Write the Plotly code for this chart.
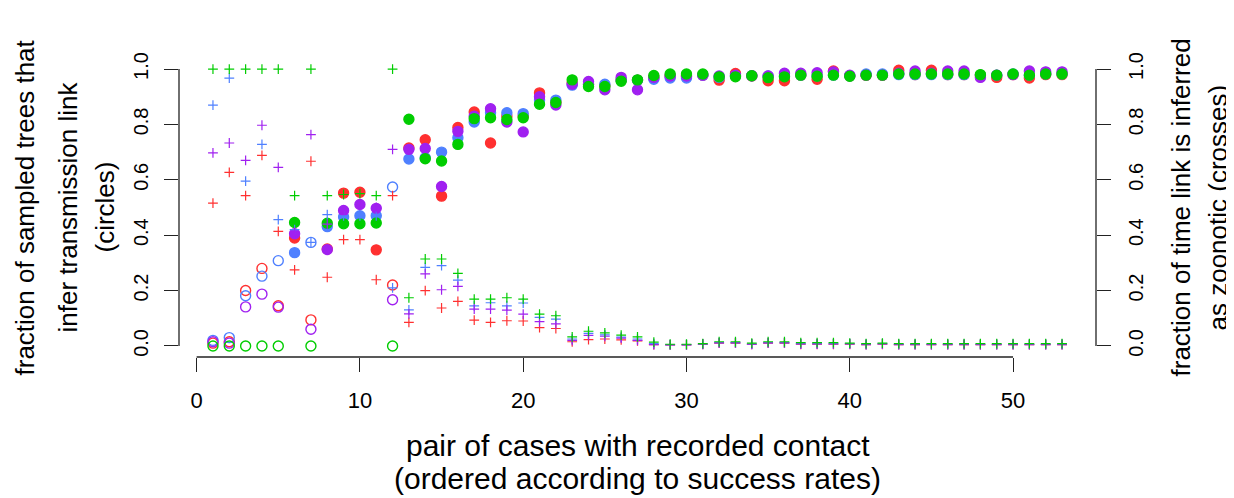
import numpy as np
import plotly.graph_objects as go

# ---------------- data ----------------
pairs = list(range(1, 54))

# pairs drawn with open circles (all others filled)
open_pairs = [1, 2, 3, 4, 5, 7, 12]

circ_red = [0.010, 0.015, 0.200, 0.280, 0.145, 0.390, 0.094, 0.350, 0.552, 0.555,
            0.347, 0.220, 0.715, 0.745, 0.541, 0.789, 0.845, 0.733, 0.830, 0.830,
            0.914, 0.880, 0.950, 0.945, 0.940, 0.960, 0.960, 0.970, 0.975, 0.975,
            0.978, 0.960, 0.984, 0.975, 0.958, 0.958, 0.978, 0.963, 0.993, 0.975,
            0.978, 0.978, 0.996, 0.980, 0.996, 0.980, 0.980, 0.978, 0.970, 0.980,
            0.968, 0.980, 0.980]
circ_blue = [0.020, 0.030, 0.181, 0.252, 0.308, 0.337, 0.374, 0.431, 0.466, 0.470,
             0.470, 0.574, 0.675, 0.680, 0.700, 0.752, 0.809, 0.842, 0.842, 0.839,
             0.888, 0.888, 0.942, 0.945, 0.945, 0.960, 0.960, 0.963, 0.968, 0.968,
             0.978, 0.970, 0.975, 0.976, 0.975, 0.975, 0.978, 0.975, 0.978, 0.975,
             0.982, 0.982, 0.980, 0.980, 0.980, 0.980, 0.980, 0.978, 0.978, 0.982,
             0.978, 0.982, 0.982]
circ_purple = [0.015, 0.010, 0.141, 0.187, 0.140, 0.405, 0.060, 0.348, 0.489, 0.511,
               0.497, 0.167, 0.710, 0.713, 0.576, 0.775, 0.830, 0.857, 0.809, 0.773,
               0.900, 0.870, 0.945, 0.955, 0.925, 0.970, 0.925, 0.970, 0.975, 0.975,
               0.978, 0.975, 0.978, 0.976, 0.975, 0.985, 0.985, 0.987, 0.990, 0.978,
               0.978, 0.978, 0.985, 0.993, 0.985, 0.993, 0.993, 0.970, 0.978, 0.980,
               0.993, 0.990, 0.990]
circ_green = [0.000, 0.000, 0.000, 0.000, 0.000, 0.446, 0.000, 0.443, 0.441, 0.441,
              0.444, 0.000, 0.819, 0.676, 0.668, 0.728, 0.821, 0.824, 0.818, 0.824,
              0.873, 0.879, 0.961, 0.937, 0.937, 0.956, 0.961, 0.977, 0.982, 0.982,
              0.982, 0.972, 0.972, 0.976, 0.969, 0.972, 0.978, 0.974, 0.978, 0.974,
              0.978, 0.978, 0.982, 0.982, 0.982, 0.982, 0.982, 0.980, 0.978, 0.982,
              0.978, 0.982, 0.982]

cross_red = [0.516, 0.627, 0.543, 0.688, 0.414, 0.275, 0.667, 0.248, 0.384, 0.384,
             0.239, 0.543, 0.085, 0.200, 0.137, 0.161, 0.093, 0.085, 0.091, 0.090,
             0.066, 0.063, 0.015, 0.023, 0.025, 0.022, 0.018, 0.005, 0.004, 0.004,
             0.006, 0.010, 0.010, 0.006, 0.010, 0.010, 0.006, 0.006, 0.006, 0.006,
             0.005, 0.006, 0.005, 0.005, 0.005, 0.005, 0.005, 0.005, 0.005, 0.005,
             0.005, 0.005, 0.005]
cross_blue = [0.870, 0.967, 0.595, 0.728, 0.456, 0.420, 0.374, 0.474, 0.470, 0.470,
              0.470, 0.210, 0.130, 0.284, 0.290, 0.238, 0.145, 0.156, 0.145, 0.155,
              0.103, 0.097, 0.025, 0.045, 0.040, 0.032, 0.025, 0.008, 0.005, 0.005,
              0.007, 0.012, 0.012, 0.007, 0.012, 0.012, 0.008, 0.008, 0.008, 0.008,
              0.006, 0.008, 0.006, 0.006, 0.006, 0.006, 0.006, 0.006, 0.006, 0.006,
              0.006, 0.006, 0.006]
cross_purple = [0.697, 0.733, 0.670, 0.797, 0.645, 0.410, 0.763, 0.440, 0.490, 0.510,
                0.500, 0.710, 0.116, 0.260, 0.203, 0.215, 0.133, 0.133, 0.129, 0.115,
                0.088, 0.080, 0.020, 0.038, 0.035, 0.028, 0.020, 0.005, 0.004, 0.004,
                0.006, 0.011, 0.011, 0.006, 0.011, 0.011, 0.007, 0.007, 0.007, 0.007,
                0.005, 0.007, 0.005, 0.005, 0.005, 0.005, 0.005, 0.005, 0.005, 0.005,
                0.005, 0.005, 0.005]
cross_green = [1.000, 1.000, 1.000, 1.000, 1.000, 0.543, 1.000, 0.543, 0.547, 0.550,
               0.543, 1.000, 0.174, 0.314, 0.314, 0.262, 0.169, 0.169, 0.174, 0.169,
               0.115, 0.109, 0.033, 0.053, 0.047, 0.039, 0.033, 0.014, 0.006, 0.006,
               0.008, 0.015, 0.015, 0.010, 0.015, 0.015, 0.012, 0.012, 0.012, 0.010,
               0.008, 0.010, 0.008, 0.008, 0.008, 0.008, 0.008, 0.008, 0.008, 0.008,
               0.008, 0.008, 0.008]

x_ticks = [0, 10, 20, 30, 40, 50]
y_ticks = [0.0, 0.2, 0.4, 0.6, 0.8, 1.0]
y_ticktext = ["0.0", "0.2", "0.4", "0.6", "0.8", "1.0"]

series = [
    ("#FF3030", circ_red, cross_red),
    ("#4F80FF", circ_blue, cross_blue),
    ("#A020F0", circ_purple, cross_purple),
    ("#00CD00", circ_green, cross_green),
]

# ---------------- figure ----------------
FONT = "Liberation Sans, Arial, sans-serif"
fig = go.Figure()
symbols = ["circle-open" if p in open_pairs else "circle" for p in pairs]

for col, circ, cross in series:
    fig.add_trace(go.Scatter(
        x=pairs, y=circ, mode="markers", yaxis="y", showlegend=False,
        marker=dict(symbol=symbols, size=10, color=col,
                    line=dict(color=col, width=1.4)),
    ))
    fig.add_trace(go.Scatter(
        x=pairs, y=cross, mode="markers", yaxis="y2", showlegend=False,
        marker=dict(symbol="cross-thin", size=7, color=col,
                    line=dict(color=col, width=1.2)),
    ))

axis_common = dict(showgrid=False, zeroline=False, showline=False,
                   ticks="outside", ticklen=14, tickwidth=1.3, tickcolor="#222")

# the page body adds an 8px offset, so the figure is 8px smaller on each axis
fig.update_layout(
    width=1226, height=490, autosize=False,
    paper_bgcolor="white", plot_bgcolor="white",
    margin=dict(l=171, r=138, t=50, b=141, pad=0),
    font=dict(family=FONT, color="black"),
    xaxis=dict(range=[-1.08, 55.08], tickvals=x_ticks, tickfont=dict(size=22),
               ticklabelstandoff=10, **axis_common),
    yaxis=dict(range=[-0.04, 1.04], tickvals=y_ticks, ticktext=y_ticktext,
               tickangle=-90, tickfont=dict(size=20), ticklabelstandoff=8,
               **axis_common),
    yaxis2=dict(range=[-0.04, 1.04], tickvals=y_ticks, ticktext=y_ticktext,
                tickangle=-90, tickfont=dict(size=20), ticklabelstandoff=8,
                overlaying="y", side="right", **axis_common),
)

# axis lines spanning only the tick range (R style)
line_style = dict(color="#222", width=1.3)
fig.add_shape(type="line", xref="x", yref="paper", x0=0, x1=50, y0=0, y1=0, line=line_style)
fig.add_shape(type="line", xref="paper", yref="y", x0=0, x1=0, y0=0, y1=1, line=line_style)
fig.add_shape(type="line", xref="paper", yref="y2", x0=1, x1=1, y0=0, y1=1, line=line_style)

def ann(text, x, y, angle=0, size=26):
    fig.add_annotation(text=text, x=x, y=y, xref="paper", yref="paper",
                       xanchor="center", yanchor="middle", textangle=angle,
                       showarrow=False, font=dict(size=size, family=FONT, color="black"))

pw, ph = 917.0, 299.0
ann("pair of cases with recorded contact", 0.5, (357 - 445) / ph, size=30)
ann("(ordered according to success rates)", 0.5, (357 - 478) / ph, size=30)
ann("fraction of sampled trees that", (24 - 179) / pw, 0.5, angle=-90)
ann("infer transmission link", (67 - 179) / pw, 0.5, angle=-90)
ann("(circles)", (104 - 179) / pw, 0.5, angle=-90)
ann("fraction of time link is inferred", (1180 - 179) / pw, 0.5, angle=-90)
ann("as zoonotic (crosses)", (1217 - 179) / pw, 0.5, angle=-90)

fig.write_html("out.html")
